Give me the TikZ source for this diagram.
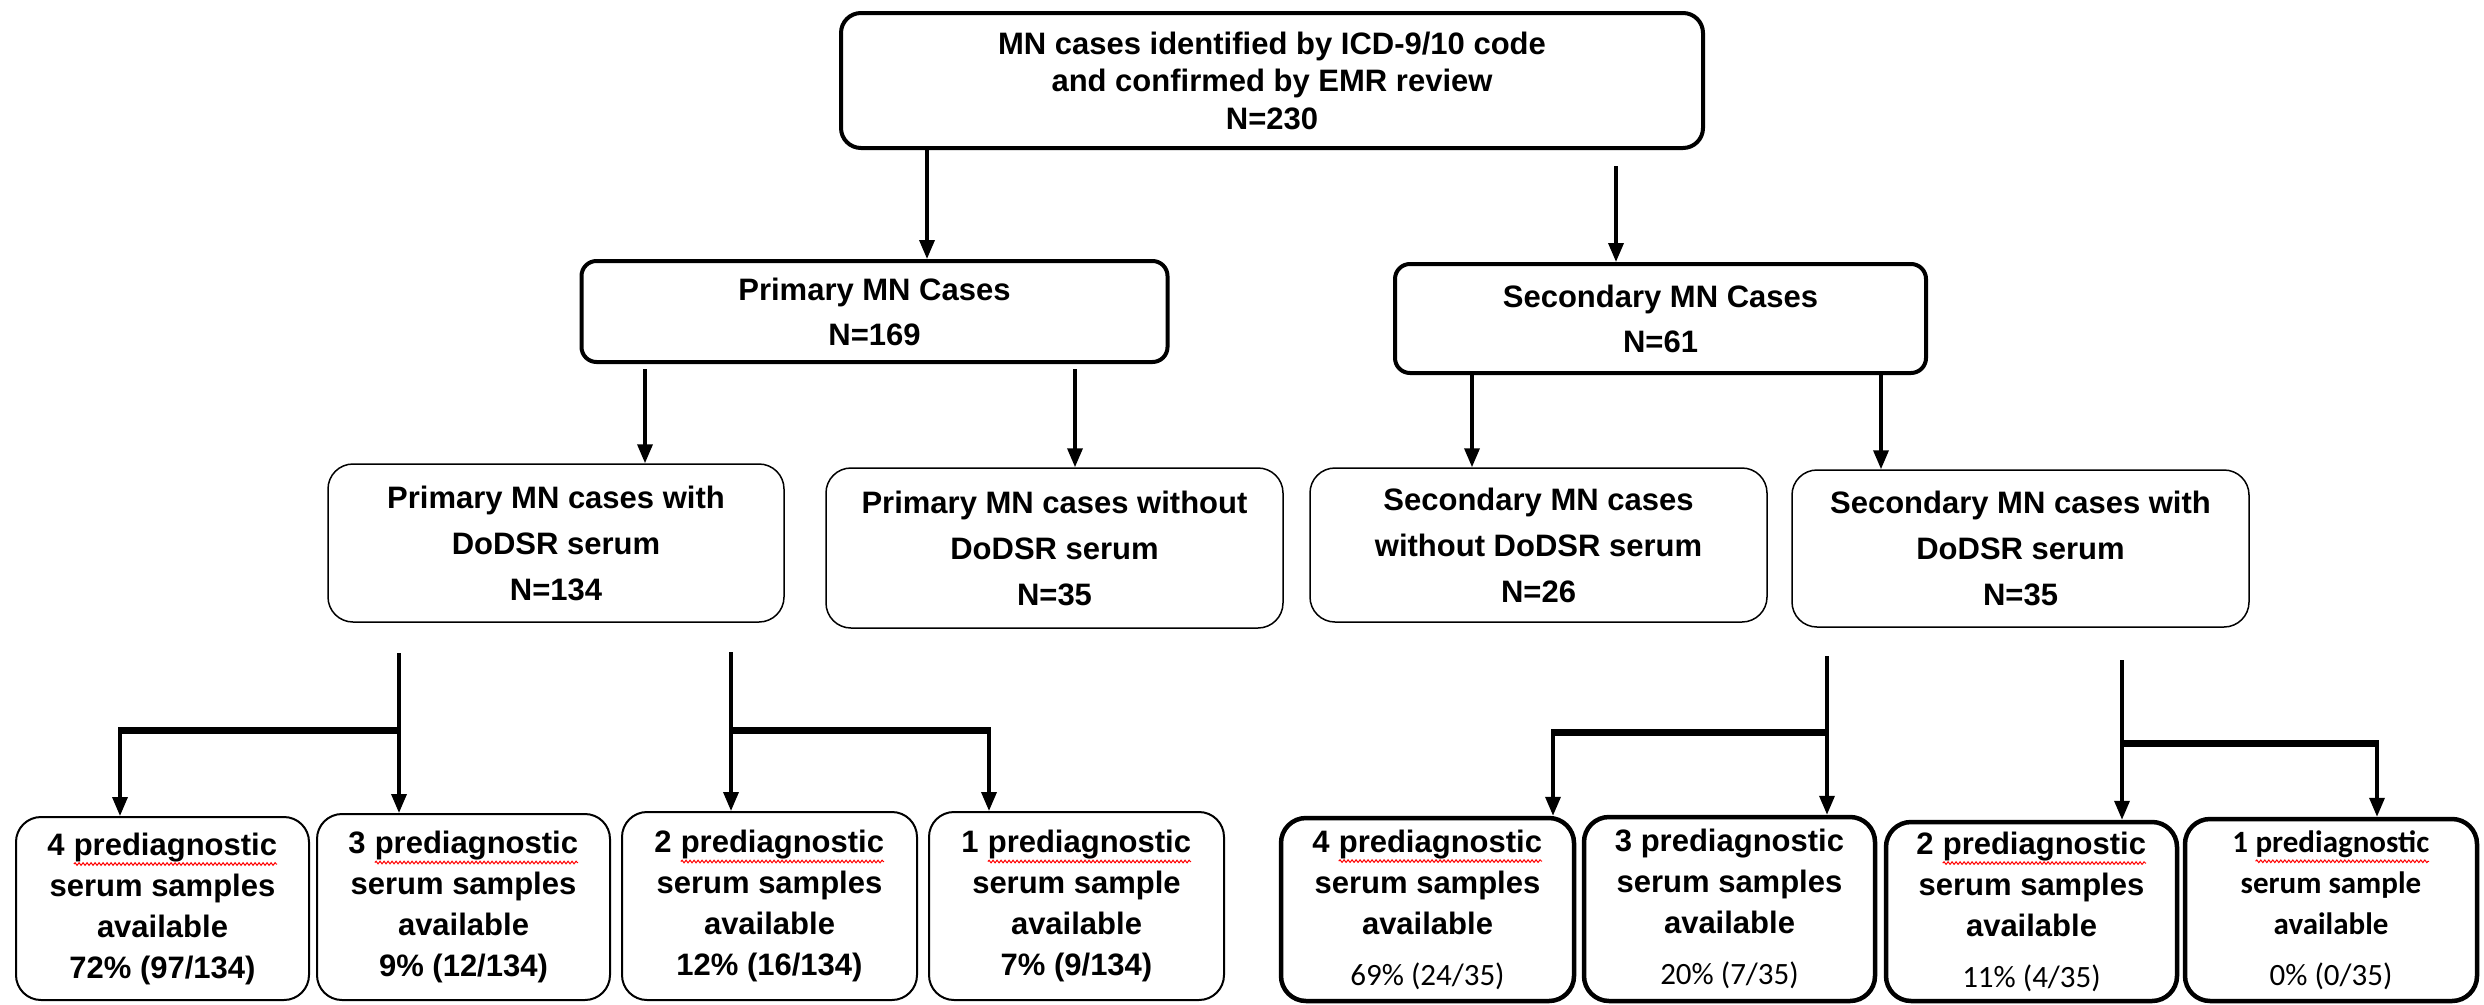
\documentclass[tikz,border=0pt]{standalone}
\usepackage{fontspec}
\setmainfont{Liberation Sans}
\newfontfamily\carl{Carlito}
\usetikzlibrary{arrows.meta,decorations.pathmorphing}
\tikzset{plainword/.style={draw=none, fill=none, inner sep=0pt, outer sep=0pt, minimum width=0pt, minimum height=0pt, rounded corners=0pt, align=left}}
\newcommand\squig[1]{\tikz[baseline=(w.base)]{\node[plainword] (w) {#1};\draw[draw=red, fill=none, line width=1pt, rounded corners=0pt, decorate, decoration={snake, amplitude=1.3pt, segment length=4pt}] ([yshift=-9pt]w.base west) -- ([yshift=-9pt]w.base east);}}
\tikzset{
  boxbase/.style={draw=black, fill=white, align=center, inner sep=0pt},
  topbox/.style={boxbase, line width=4pt, rounded corners=20pt, font=\bfseries\fontsize{31}{37.5}\selectfont},
  lvtwo/.style={boxbase, line width=4pt, rounded corners=15pt, font=\bfseries\fontsize{31}{45}\selectfont},
  lvthree/.style={boxbase, line width=1.5pt, rounded corners=25pt, font=\bfseries\fontsize{31}{46}\selectfont},
  lowbox/.style={boxbase, line width=2pt, rounded corners=25pt, font=\bfseries\fontsize{31}{41}\selectfont},
  lowboxthick/.style={lowbox, line width=4.5pt},
  arr/.style={line width=3.5pt, -{Triangle[length=19pt,width=15pt]}},
  barline/.style={line width=7pt},
}
\begin{document}
\begin{tikzpicture}[x=1pt,y=-1pt]
\useasboundingbox (0,0) rectangle (2484,1004);
\fill[white] (0,0) rectangle (2484,1004);

% level 1
\node[topbox, minimum width=862pt, minimum height=135pt] (top) at (1272,80.5)
  {MN cases identified by ICD-9/10 code\\and confirmed by EMR review\\N=230};

% level 2
\node[lvtwo, minimum width=586pt, minimum height=101pt] (pm) at (874.5,311.5)
  {Primary MN Cases\\N=169};
\node[lvtwo, minimum width=531pt, minimum height=109pt] (sm) at (1660.5,318.5)
  {Secondary MN Cases\\N=61};

% level 3
\node[lvthree, minimum width=456pt, minimum height=158pt] (pw) at (556,543)
  {Primary MN cases with\\DoDSR serum\\N=134};
\node[lvthree, minimum width=457pt, minimum height=160pt] (pwo) at (1054.5,548)
  {Primary MN cases without\\DoDSR serum\\N=35};
\node[lvthree, minimum width=457pt, minimum height=154pt] (swo) at (1538.5,545)
  {Secondary MN cases\\without DoDSR serum\\N=26};
\node[lvthree, minimum width=457pt, minimum height=157pt] (sw) at (2020.5,548.5)
  {Secondary MN cases with\\DoDSR serum\\N=35};

% level 4 primary
\node[lowbox, minimum width=293pt, minimum height=183pt] (b1) at (162.5,908.5)
  {4 \squig{prediagnostic}\\serum samples\\available\\72\% (97/134)};
\node[lowbox, minimum width=293pt, minimum height=186pt] (b2) at (463.5,907)
  {3 \squig{prediagnostic}\\serum samples\\available\\9\% (12/134)};
\node[lowbox, minimum width=295pt, minimum height=188pt] (b3) at (769.5,906)
  {2 \squig{prediagnostic}\\serum samples\\available\\12\% (16/134)};
\node[lowbox, minimum width=295pt, minimum height=188pt] (b4) at (1076.5,906)
  {1 \squig{prediagnostic}\\serum sample\\available\\7\% (9/134)};

% level 4 secondary
\node[lowboxthick, minimum width=293pt, minimum height=183pt] (b5) at (1427.5,909.5)
  {4 \squig{prediagnostic}\\serum samples\\available\\[10pt]{\carl\mdseries 69\% (24/35)}};
\node[lowboxthick, minimum width=291pt, minimum height=184pt] (b6) at (1729.5,909)
  {3 prediagnostic\\serum samples\\available\\[10pt]{\carl\mdseries 20\% (7/35)}};
\node[lowboxthick, minimum width=291pt, minimum height=179pt] (b7) at (2031.5,911.5)
  {2 \squig{prediagnostic}\\serum samples\\available\\[10pt]{\carl\mdseries 11\% (4/35)}};
\node[lowboxthick, minimum width=292pt, minimum height=182pt, font=\carl\bfseries\fontsize{31}{41}\selectfont] (b8) at (2331,910)
  {1 \squig{prediagnostic}\\serum sample\\available\\[10pt]{\mdseries 0\% (0/35)}};

% connectors level 1 -> 2
\coordinate (t1) at (927,0);
\coordinate (t2) at (1616,166);
\draw[arr] (top.south -| t1) -- (pm.north -| t1);
\draw[arr] (t2) -- (sm.north -| t2);

% connectors level 2 -> 3
\coordinate (p1) at (645,0);
\coordinate (p2) at (1075,0);
\coordinate (s1) at (1472,0);
\coordinate (s2) at (1881,0);
\draw[arr] ([yshift=-5pt]pm.south -| p1) -- (pw.north -| p1);
\draw[arr] ([yshift=-5pt]pm.south -| p2) -- (pwo.north -| p2);
\draw[arr] (sm.south -| s1) -- (swo.north -| s1);
\draw[arr] (sm.south -| s2) -- (sw.north -| s2);

% connectors level 3 -> 4
\coordinate (g1) at (399,653);  \coordinate (h1) at (399,730);  \coordinate (k1) at (120,730);
\coordinate (g2) at (731,652);  \coordinate (h2) at (731,730);  \coordinate (k2) at (989,730);
\coordinate (g3) at (1827,656); \coordinate (h3) at (1827,732); \coordinate (k3) at (1553,732);
\coordinate (g4) at (2122,660); \coordinate (h4) at (2122,743); \coordinate (k4) at (2377,743);

\draw[arr] (g1) -- (b2.north -| g1);
\draw[barline] (h1) -- ([xshift=-1.75pt]k1);
\draw[arr] ([yshift=3pt]k1) -- (b1.north -| k1);

\draw[arr] (g2) -- (b3.north -| g2);
\draw[barline] (h2) -- ([xshift=1.75pt]k2);
\draw[arr] ([yshift=3pt]k2) -- (b4.north -| k2);

\draw[arr] (g3) -- (b6.north -| g3);
\draw[barline] (h3) -- ([xshift=-1.75pt]k3);
\draw[arr] ([yshift=3pt]k3) -- (b5.north -| k3);

\draw[arr] (g4) -- (b7.north -| g4);
\draw[barline] (h4) -- ([xshift=1.75pt]k4);
\draw[arr] ([yshift=3pt]k4) -- (b8.north -| k4);
\end{tikzpicture}
\end{document}
